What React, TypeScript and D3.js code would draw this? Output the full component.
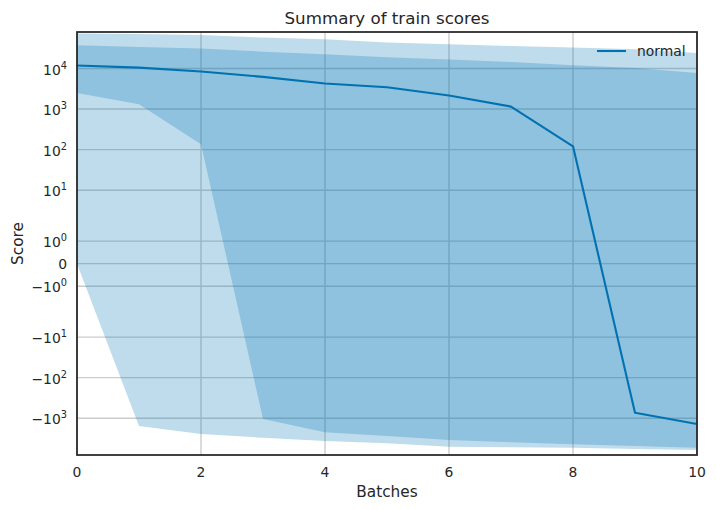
import React from "react";
import * as d3 from "d3";

// ---- data ----
const batches = [0, 1, 2, 3, 4, 5, 6, 7, 8, 9, 10];
const meanScore = [11800, 10500, 8400, 6200, 4250, 3440, 2150, 1150, 121, -730, -1390];
// band 1 (upper edge = outer top, lower edge = inner bottom)
const band1Upper = [72400, 71000, 67000, 58000, 52500, 43400, 39600, 35900, 32800, 29700, 24100];
const band1Lower = [2490, 1310, 136, -1050, -2230, -2750, -3440, -3930, -4400, -4840, -5340];
// band 2 (upper edge = inner top, lower edge = outer bottom)
const band2Upper = [37300, 33900, 30900, 26000, 22400, 18900, 16600, 14500, 12000, 10300, 7760];
const band2Lower = [0, -1556, -2456, -3030, -3650, -4160, -5040, -5210, -5340, -5740, -6080];

const xTicks = [0, 2, 4, 6, 8, 10];
const yTickValues = [10000, 1000, 100, 10, 1, 0, -1, -10, -100, -1000];
const yTickLabels = [
  { sign: "", base: "10", exp: "4" },
  { sign: "", base: "10", exp: "3" },
  { sign: "", base: "10", exp: "2" },
  { sign: "", base: "10", exp: "1" },
  { sign: "", base: "10", exp: "0" },
  { sign: "", base: "0", exp: "" },
  { sign: "\u2212", base: "10", exp: "0" },
  { sign: "\u2212", base: "10", exp: "1" },
  { sign: "\u2212", base: "10", exp: "2" },
  { sign: "\u2212", base: "10", exp: "3" },
];
const yDomain = [-8060, 79300];
const xDomain = [0, 10];
const title = "Summary of train scores";
const xLabel = "Batches";
const yLabel = "Score";
const seriesName = "normal";

// matplotlib-style symlog (linthresh 2, linscale 1, base 10)
const LINTHRESH = 2;
const LINSCALE_ADJ = 1 / (1 - 1 / 10);
function symlog(v: number): number {
  const a = Math.abs(v);
  if (a <= LINTHRESH) return v * LINSCALE_ADJ;
  return Math.sign(v) * LINTHRESH * (LINSCALE_ADJ + Math.log10(a / LINTHRESH));
}

const W = 716;
const H = 510;
const M = { left: 77, right: 697, top: 32, bottom: 455 };
const BLUE = "#0072b2";
const TEXT = "#262626";
const FONT = "'DejaVu Sans', sans-serif";

export default function App() {
  const x = d3.scaleLinear().domain(xDomain).range([M.left, M.right]);
  const yT = d3.scaleLinear().domain(yDomain.map(symlog)).range([M.bottom, M.top]);
  const y = (v: number) => yT(symlog(v));

  const mkArea = (up: number[], lo: number[]) =>
    d3
      .area<number>()
      .x((d) => x(d))
      .y0((_, i) => y(lo[i]))
      .y1((_, i) => y(up[i]))(batches) || "";

  const line =
    d3
      .line<number>()
      .x((d) => x(d))
      .y((_, i) => y(meanScore[i]))(batches) || "";

  return (
    <svg
      width={W}
      height={H}
      style={{ position: "absolute", left: 0, top: 0, background: "#fff" }}
      fontFamily={FONT}
    >
      <defs>
        <clipPath id="plotclip">
          <rect x={M.left} y={M.top} width={M.right - M.left} height={M.bottom - M.top} />
        </clipPath>
      </defs>
      <rect x={0} y={0} width={W} height={H} fill="#fff" />
      {/* grid */}
      <g stroke="#cccccc" strokeWidth={1.4}>
        {xTicks.map((t) => (
          <line key={"gx" + t} x1={x(t)} x2={x(t)} y1={M.top} y2={M.bottom} />
        ))}
        {yTickValues.map((t) => (
          <line key={"gy" + t} x1={M.left} x2={M.right} y1={y(t)} y2={y(t)} />
        ))}
      </g>
      {/* bands */}
      <g clipPath="url(#plotclip)">
        <path d={mkArea(band1Upper, band1Lower)} fill={BLUE} fillOpacity={0.25} />
        <path d={mkArea(band2Upper, band2Lower)} fill={BLUE} fillOpacity={0.25} />
        <path d={line} fill="none" stroke={BLUE} strokeWidth={2.1} strokeLinejoin="round" />
      </g>
      {/* spines */}
      <rect
        x={M.left}
        y={M.top}
        width={M.right - M.left}
        height={M.bottom - M.top}
        fill="none"
        stroke={TEXT}
        strokeWidth={1.75}
      />
      {/* x tick labels */}
      <g fill={TEXT} fontSize={13.9} textAnchor="middle">
        {xTicks.map((t) => (
          <text key={"xt" + t} x={x(t)} y={476.5}>
            {t}
          </text>
        ))}
      </g>
      {/* y tick labels */}
      <g fill={TEXT} fontSize={13.9} textAnchor="end">
        {yTickValues.map((t, i) => {
          const lab = yTickLabels[i];
          const yy = y(t);
          if (!lab.exp) {
            return (
              <text key={"yt" + t} x={67} y={yy + 5}>
                {lab.base}
              </text>
            );
          }
          return (
            <text key={"yt" + t} x={67} y={yy + 6.2}>
              {lab.sign + lab.base}
              <tspan fontSize={9.8} dy={-6}>
                {lab.exp}
              </tspan>
            </text>
          );
        })}
      </g>
      {/* title and axis labels */}
      <text x={(M.left + M.right) / 2} y={23.5} textAnchor="middle" fontSize={16.7} fill={TEXT}>
        {title}
      </text>
      <text x={(M.left + M.right) / 2} y={496.7} textAnchor="middle" fontSize={15.3} fill={TEXT}>
        {xLabel}
      </text>
      <text
        transform={`translate(23,${(M.top + M.bottom) / 2}) rotate(-90)`}
        textAnchor="middle"
        fontSize={15.3}
        fill={TEXT}
      >
        {yLabel}
      </text>
      {/* legend */}
      <line x1={597} x2={626} y1={51} y2={51} stroke={BLUE} strokeWidth={2.1} />
      <text x={637} y={56} fontSize={13.9} fill={TEXT}>
        {seriesName}
      </text>
    </svg>
  );
}
